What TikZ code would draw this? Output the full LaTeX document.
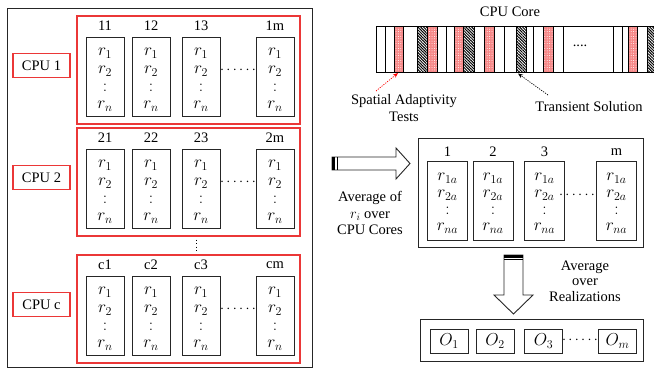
\documentclass[tikz,border=0pt]{standalone}
\usepackage{fontspec}
\setmainfont{Liberation Serif}
\usetikzlibrary{patterns,patterns.meta,arrows.meta}
\definecolor{boxred}{RGB}{235,55,55}
\definecolor{stripered}{RGB}{246,135,135}

\begin{document}
\begin{tikzpicture}[x=1pt,y=-1pt,
  every node/.style={font=\fontsize{14.5}{14.5}\selectfont, inner sep=0pt},
  sym/.style={font=\fontsize{17.5}{17.5}\selectfont},
  frame/.style={draw=black!85, line width=0.9pt},
  cell/.style={draw=black!85, line width=0.9pt, minimum width=38pt, minimum height=79pt},
  avgcell/.style={draw=black!85, line width=0.9pt, minimum width=40pt, minimum height=79pt},
  outcell/.style={draw=black!85, line width=0.9pt, minimum width=38pt, minimum height=24pt},
  group/.style={draw=boxred, line width=1.3pt},
  cpulabel/.style={draw=boxred, line width=1.2pt, minimum width=57pt, minimum height=24pt},
  redstripe/.style={fill=stripered},
  redspeckle/.style={pattern={Dots[distance=2.4pt, radius=0.5pt]}, pattern color=white},
  darkstripe/.style={pattern={Lines[angle=-45, distance=2pt, line width=1pt]}, pattern color=black},
  blockarrow/.style={draw=black!85, line width=0.9pt, fill=white},
  pointer/.style={line width=0.7pt, dash pattern=on 1.2pt off 1.2pt, -{Stealth[length=5pt, width=4pt]}}
]
\useasboundingbox (0,0) rectangle (654,370);

% ---------- left panel: realizations per CPU ----------
\draw[frame] (7,8) rectangle (312,367);

\foreach \T/\g/\lab/\cpu in {16/1/1/CPU 1, 128/2/2/CPU 2, 255/c/c/CPU c}{
  \draw[group] (77,\T) rectangle (300,\T+108);
  \node[cpulabel] (cpu\g) at (41.5,\T+49.5) {\cpu};
  \foreach \k/\cx in {1/105, 2/151, 3/201, m/275}{
    \node (lab\g\k) at (\cx,\T+10) {\lab\k};
    \node[cell] (cell\g\k) at (\cx,\T+60.5) {};
    \node[sym] at (\cx,\T+37) {$r_1$};
    \node[sym] at (\cx,\T+55) {$r_2$};
    \node[sym] at (\cx,\T+72) {$:$};
    \node[sym] at (\cx,\T+90) {$r_n$};
  }
  \node (hdots\g) at (238,\T+54) {$\cdots\cdots$};
}
% vertical ellipsis between the second and last CPU
\draw[line width=1pt, dash pattern=on 1pt off 2.6pt] (196,239.5) -- (196,252);

% ---------- CPU core time line ----------
\node (core) at (510,12) {CPU Core};
\foreach \a/\b in {394/403, 427/437, 454/463, 484/494, 543/553, 628/637}{
  \path[redstripe] (\a,26) rectangle (\b,72);
  \path[redspeckle] (\a,26) rectangle (\b,72);
}
\foreach \a/\b in {417/427, 463/474, 516/526, 647/656}{
  \path[darkstripe] (\a,26) rectangle (\b,72);
}
\draw[line width=0.9pt] (656,26) -- (376,26) -- (376,72) -- (656,72);
\foreach \x in {385,394,403,417,427,437,446,454,463,474,484,494,504,516,526,533,543,553,563,613,622,628,637,647}{
  \draw[line width=0.8pt] (\x,26) -- (\x,72);
}
\node at (580,46) {....};

\coordinate (redcell) at (398,73);
\coordinate (darkcell) at (518,73.5);
\node[align=center] (spatial) at (404,108) {Spatial Adaptivity\\[2pt]Tests};
\node (transient) at (589,107) {Transient Solution};
\coordinate (spatialtail) at (376,91);
\coordinate (transienttail) at (548,95);
\draw[pointer, draw=red] (spatialtail) -- (redcell);
\draw[pointer, draw=black] (transienttail) -- (darkcell);

% ---------- averaging over CPU cores ----------
\draw[blockarrow] (332,157) -- (396,157) -- (396,148) -- (410,163.5) -- (396,179) -- (396,170) -- (332,170) -- cycle;
\fill (332,157) rectangle (335,170);
\draw[line width=0.9pt] (337,157) -- (337,170);
\node[align=center] (avgcores) at (370,213) {Average of\\[2pt]$r_i$ over\\[2pt]CPU Cores};

\draw[frame] (418,138) rectangle (643,247);
\foreach \k/\cx in {1/447.5, 2/493, 3/544.5, m/616.5}{
  \node (avglab\k) at (\cx,152) {\k};
  \node[avgcell] (avg\k) at (\cx,200.5) {};
  \node[sym] at (\cx,178) {$r_{1a}$};
  \node[sym] at (\cx,195) {$r_{2a}$};
  \node[sym] at (\cx,211) {$:$};
  \node[sym] at (\cx,228) {$r_{na}$};
}
\node (avgdots) at (577,195) {$\cdots\cdots$};

% ---------- averaging over realizations ----------
\draw[blockarrow] (504,255) -- (523,255) -- (523,295) -- (533,295) -- (513.5,314) -- (494,295) -- (504,295) -- cycle;
\fill (504,255) rectangle (523,257.5);
\draw[line width=0.9pt] (504,259.5) -- (523,259.5);
\node[align=center] (avgreal) at (585,281) {Average\\[1pt]over\\[1pt]Realizations};

\draw[frame] (420,319) rectangle (643,361);
\foreach \k/\cx/\lab in {1/449/1, 2/495/2, 3/543.5/3, m/617.5/m}{
  \node[outcell, sym] (out\k) at (\cx,341) {$O_\lab$};
}
\node (outdots) at (580,340) {$\cdots\cdots$};
\end{tikzpicture}
\end{document}
